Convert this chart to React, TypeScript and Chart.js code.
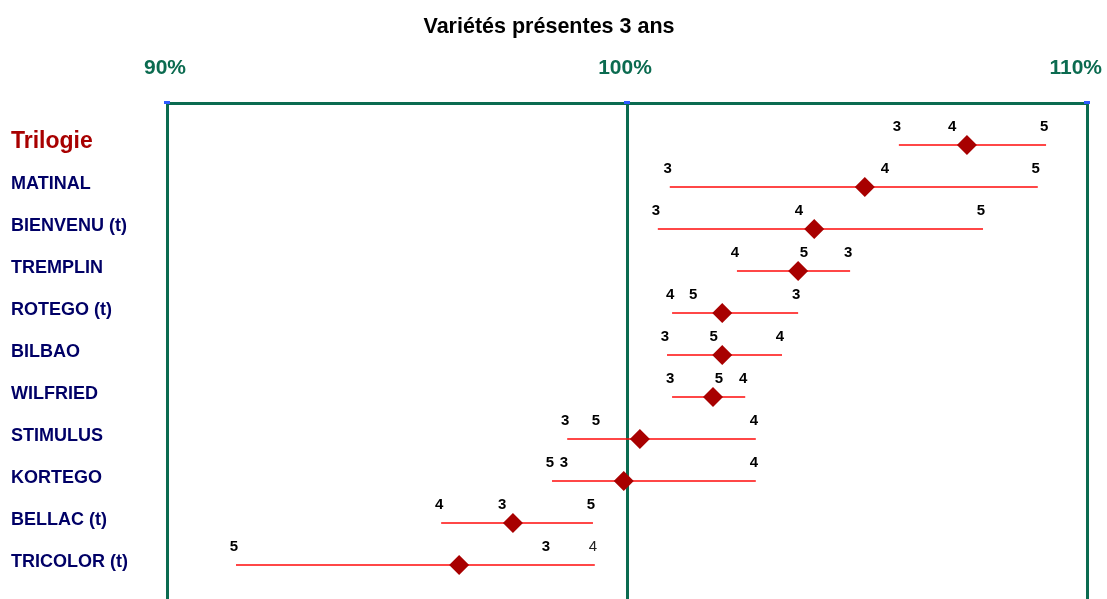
import React, { useEffect, useRef } from "react";
import { Chart, registerables } from "chart.js";
Chart.register(...registerables);

const varieties = [
  "Trilogie",
  "MATINAL",
  "BIENVENU (t)",
  "TREMPLIN",
  "ROTEGO (t)",
  "BILBAO",
  "WILFRIED",
  "STIMULUS",
  "KORTEGO",
  "BELLAC (t)",
  "TRICOLOR (t)",
];
const year3 = [105.91, 100.93, 100.67, 104.85, 103.72, 100.87, 100.98, 98.7, 98.67, 97.33, 98.28];
const year4 = [107.11, 105.65, 103.78, 102.39, 100.98, 103.37, 102.57, 102.8, 102.8, 95.96, 99.3];
const year5 = [109.11, 108.93, 107.74, 103.89, 101.48, 101.93, 102.04, 99.37, 98.37, 99.26, 91.5];
const means = [107.39, 105.17, 104.07, 103.72, 102.07, 102.07, 101.87, 100.28, 99.93, 97.52, 96.35];
const yearNames = ["3", "4", "5"];
const xTicks = [90, 100, 110];
const title = "Variétés présentes 3 ans";
// labels drawn in normal weight: [row, year index]
const lightLabels = [[10, 1]];

const FONT = "'Liberation Sans', Arial, Helvetica, sans-serif";
const GREEN = "#0B6B50";
const TITLE_PAD_TOP = 14.4;
const TITLE_PAD_BOTTOM = 10;
const TITLE_SIZE = 21.5;
const TOP_EDGE = 103;

const overlayPlugin = {
  id: "overlayLabels",
  afterDraw(chart: any) {
    const { ctx, chartArea } = chart;
    const x = chart.scales.x;
    const y = chart.scales.y;
    ctx.save();
    // small blue markers at the top of each vertical line
    ctx.fillStyle = "#2F5BFF";
    xTicks.forEach((v) => {
      const px = x.getPixelForValue(v);
      ctx.fillRect(px - 3, chartArea.top - 2, 6, 3);
    });
    // x tick labels
    ctx.font = `bold 21px ${FONT}`;
    ctx.fillStyle = GREEN;
    ctx.textAlign = "center";
    ctx.textBaseline = "middle";
    xTicks.forEach((v) => {
      const label = v + "%";
      const w = ctx.measureText(label).width;
      let px = x.getPixelForValue(v) - 2;
      if (px + w / 2 > chart.width - 5) px = chart.width - 5 - w / 2;
      ctx.fillText(label, px, chartArea.top - 35);
    });
    // year labels
    const series = [year3, year4, year5];
    ctx.textBaseline = "alphabetic";
    varieties.forEach((_, i) => {
      series.forEach((arr, k) => {
        const light = lightLabels.some(([r, c]) => r === i && c === k);
        ctx.font = `${light ? "normal" : "bold"} 15px ${FONT}`;
        ctx.fillStyle = light ? "#222222" : "#000000";
        const px = x.getPixelForValue(arr[i]) - 2;
        const py = y.getPixelForValue(i) - 14;
        ctx.fillText(yearNames[k], px, py);
      });
    });
    ctx.restore();
  },
};

export default function App() {
  const canvasRef = useRef<HTMLCanvasElement | null>(null);

  useEffect(() => {
    document.body.style.margin = "0";
    const canvas = canvasRef.current;
    if (!canvas) return;

    const lineSets = varieties.map((_, i) => {
      const vals = [year3[i], year4[i], year5[i]];
      return {
        type: "scatter" as const,
        label: "range " + i,
        order: 1,
        data: [
          { x: Math.min(...vals), y: i },
          { x: Math.max(...vals), y: i },
        ],
        showLine: true,
        borderColor: "#FF0A0A",
        borderWidth: 1.5,
        pointRadius: 0,
        clip: false as any,
      };
    });

    const meanSet = {
      type: "scatter" as const,
      label: "moyenne",
      order: 0,
      data: means.map((m, i) => ({ x: m, y: i })),
      pointStyle: "rectRot" as const,
      pointRadius: 10,
      pointHoverRadius: 10,
      backgroundColor: "#A80000",
      borderColor: "#A80000",
      borderWidth: 0,
      showLine: false,
      clip: false as any,
    };

    const titleH = TITLE_PAD_TOP + TITLE_SIZE * 1.2 + TITLE_PAD_BOTTOM;

    const chart = new Chart(canvas, {
      type: "scatter",
      data: { datasets: [...lineSets, meanSet] as any },
      options: {
        animation: false,
        responsive: true,
        maintainAspectRatio: false,
        layout: { autoPadding: false, padding: { left: 11, right: 20, top: 0, bottom: 0 } },
        plugins: {
          legend: { display: false },
          tooltip: { enabled: false },
          title: {
            display: true,
            text: title,
            color: "#000000",
            font: { family: FONT, size: TITLE_SIZE, weight: "bold", lineHeight: 1.2 },
            padding: { top: TITLE_PAD_TOP, bottom: TITLE_PAD_BOTTOM },
          },
        },
        scales: {
          x: {
            type: "linear",
            position: "top",
            min: 90,
            max: 110,
            afterBuildTicks: (scale: any) => {
              scale.ticks = xTicks.map((v) => ({ value: v }));
            },
            afterFit: (scale: any) => {
              scale.height = TOP_EDGE - titleH;
              scale.paddingLeft = 0;
              scale.paddingRight = 0;
            },
            ticks: { display: false },
            grid: {
              color: GREEN,
              lineWidth: 3,
              drawTicks: false,
            },
            border: { display: true, color: GREEN, width: 3 },
          },
          y: {
            type: "linear",
            reverse: true,
            min: -1,
            max: 10.81,
            afterBuildTicks: (scale: any) => {
              scale.ticks = varieties.map((_, i) => ({ value: i }));
            },
            afterFit: (scale: any) => {
              scale.width = 156;
              scale.paddingTop = 0;
              scale.paddingBottom = 0;
            },
            grid: { display: false, drawTicks: false },
            border: { display: false },
            ticks: {
              crossAlign: "far",
              padding: 0,
              labelOffset: -3,
              autoSkip: false,
              callback: (v: any) => varieties[Number(v)] ?? "",
              color: (c: any) => (c.tick && c.tick.value === 0 ? "#A80000" : "#000066"),
              font: (c: any) =>
                c.tick && c.tick.value === 0
                  ? { family: FONT, size: 23, weight: "bold" }
                  : { family: FONT, size: 18, weight: "bold" },
            },
          },
        },
      },
      plugins: [overlayPlugin],
    });

    return () => chart.destroy();
  }, []);

  return (
    <div style={{ position: "relative", width: "1107px", height: "599px" }}>
      <canvas ref={canvasRef} />
    </div>
  );
}
